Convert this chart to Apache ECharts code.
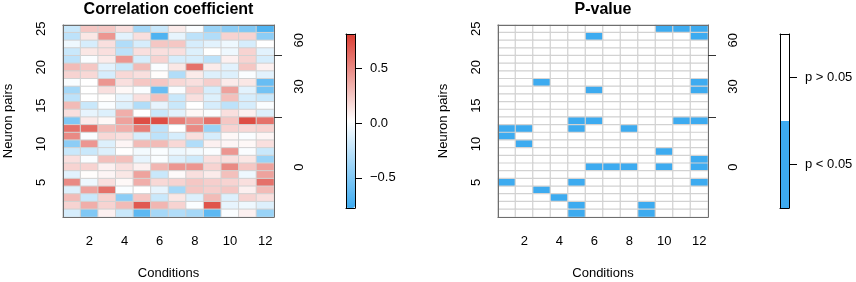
<!DOCTYPE html>
<html><head><meta charset="utf-8">
<script src="https://cdn.jsdelivr.net/npm/echarts@6/dist/echarts.min.js"></script>
<style>html,body{margin:0;padding:0;background:#fff}#c{width:856px;height:282px}</style>
</head><body><div id="c"></div>
<script>
// ---------- data ----------
const conditions = ['1','2','3','4','5','6','7','8','9','10','11','12'];
const pairs = ['1','2','3','4','5','6','7','8','9','10','11','12','13','14','15','16','17','18','19','20','21','22','23','24','25'];
const xTickLabels = ['2','4','6','8','10','12'];
const yTickLabels = ['5','10','15','20','25'];
const groupBounds = [0, 13, 21, 25];      // neuron-pair index boundaries of the groups
const groupLabels = ['0', '30', '60'];
const corrTicks = [-0.5, 0, 0.5];
const corrRange = [-0.775, 0.815];
const pLegend = ['p < 0.05', 'p > 0.05'];
const pLegendValues = [1, 1];

// correlation coefficient, rows listed from pair 25 (top) down to pair 1 (bottom)
const corr = [
  [-0.20, 0.25, 0.25, 0.15,-0.35,-0.20, 0.10, 0.00,-0.40,-0.45,-0.50,-0.70],
  [-0.25, 0.12, 0.45,-0.10, 0.15,-0.70,-0.08,-0.25,-0.30, 0.20, 0.20,-0.45],
  [-0.05,-0.15, 0.15,-0.30,-0.15, 0.25, 0.25,-0.15,-0.10,-0.05,-0.15, 0.02],
  [-0.20, 0.12, 0.15,-0.25, 0.15, 0.15, 0.15,-0.12, 0.02,-0.05, 0.20,-0.10],
  [-0.25, 0.00, 0.10, 0.45,-0.15, 0.20,-0.15,-0.15,-0.25, 0.08, 0.20,-0.15],
  [ 0.30, 0.25,-0.10,-0.20, 0.30, 0.00, 0.12, 0.60, 0.10,-0.10, 0.25, 0.08],
  [ 0.20, 0.18,-0.15, 0.18, 0.15, 0.03,-0.30, 0.10,-0.12,-0.12, 0.00,-0.10],
  [ 0.00, 0.02, 0.45, 0.15, 0.25, 0.25, 0.18, 0.15, 0.22, 0.10, 0.12,-0.60],
  [-0.35, 0.02, 0.15, 0.05, 0.00,-0.60, 0.00, 0.22,-0.15, 0.40,-0.10,-0.55],
  [-0.25, 0.02, 0.03,-0.08, 0.15, 0.28,-0.20, 0.15,-0.12, 0.28,-0.15,-0.20],
  [ 0.30,-0.20, 0.00,-0.12,-0.30,-0.08,-0.20, 0.02,-0.15,-0.25,-0.15, 0.00],
  [ 0.15,-0.08,-0.12, 0.35, 0.02,-0.20,-0.10, 0.05, 0.00, 0.15, 0.08,-0.12],
  [-0.50, 0.10, 0.05, 0.40, 0.75, 0.75, 0.55, 0.45, 0.60, 0.25, 0.75, 0.60],
  [ 0.60, 0.62, 0.30, 0.35, 0.55,-0.25, 0.02, 0.50,-0.40, 0.20, 0.18, 0.20],
  [ 0.50, 0.00, 0.18, 0.15,-0.15,-0.25,-0.15, 0.15,-0.15, 0.05, 0.00, 0.06],
  [-0.45, 0.45,-0.12, 0.06, 0.30, 0.30, 0.18,-0.30, 0.08, 0.06, 0.05, 0.15],
  [-0.20,-0.20,-0.12, 0.02,-0.03, 0.00,-0.05,-0.03, 0.00, 0.45, 0.00,-0.20],
  [ 0.15, 0.00, 0.28, 0.28,-0.08, 0.00,-0.12,-0.18, 0.15, 0.15, 0.12,-0.40],
  [ 0.20, 0.20, 0.08, 0.15, 0.08, 0.32, 0.45, 0.45, 0.20, 0.50, 0.25, 0.40],
  [-0.10, 0.03, 0.06, 0.12, 0.40,-0.20, 0.04, 0.15, 0.10, 0.28,-0.05, 0.40],
  [ 0.50,-0.05, 0.15, 0.05, 0.35, 0.18, 0.20, 0.25, 0.22, 0.20, 0.15, 0.60],
  [-0.12, 0.40, 0.60, 0.00, 0.02,-0.08,-0.35, 0.25, 0.22, 0.25, 0.08, 0.30],
  [ 0.30,-0.20, 0.20,-0.45, 0.25,-0.20, 0.12,-0.12, 0.30,-0.12, 0.20, 0.15],
  [ 0.20, 0.35, 0.20, 0.30, 0.70, 0.32, 0.20, 0.00, 0.72,-0.08,-0.05,-0.12],
  [-0.15,-0.50, 0.08,-0.20,-0.65,-0.35,-0.30,-0.35,-0.65, 0.00, 0.08,-0.40]
];

// significance (1 = p < 0.05), rows listed from pair 25 (top) down to pair 1
const sig = [
  [0,0,0,0,0,0,0,0,0,1,1,1],
  [0,0,0,0,0,1,0,0,0,0,0,1],
  [0,0,0,0,0,0,0,0,0,0,0,0],
  [0,0,0,0,0,0,0,0,0,0,0,0],
  [0,0,0,0,0,0,0,0,0,0,0,0],
  [0,0,0,0,0,0,0,0,0,0,0,0],
  [0,0,0,0,0,0,0,0,0,0,0,0],
  [0,0,1,0,0,0,0,0,0,0,0,1],
  [0,0,0,0,0,1,0,0,0,0,0,1],
  [0,0,0,0,0,0,0,0,0,0,0,0],
  [0,0,0,0,0,0,0,0,0,0,0,0],
  [0,0,0,0,0,0,0,0,0,0,0,0],
  [0,0,0,0,1,1,0,0,0,0,1,1],
  [1,1,0,0,1,0,0,1,0,0,0,0],
  [1,0,0,0,0,0,0,0,0,0,0,0],
  [0,1,0,0,0,0,0,0,0,0,0,0],
  [0,0,0,0,0,0,0,0,0,1,0,0],
  [0,0,0,0,0,0,0,0,0,0,0,1],
  [0,0,0,0,0,1,1,1,0,1,0,1],
  [0,0,0,0,0,0,0,0,0,0,0,0],
  [1,0,0,0,1,0,0,0,0,0,0,1],
  [0,0,1,0,0,0,0,0,0,0,0,0],
  [0,0,0,1,0,0,0,0,0,0,0,0],
  [0,0,0,0,1,0,0,0,1,0,0,0],
  [0,0,0,0,1,0,0,0,1,0,0,0]
];

// ---------- styles / layout ----------
const FONT = 'Liberation Sans, Arial, Helvetica, sans-serif';
const BLUE = '#3DABF0', RED = '#DB3D33', WHITE = '#FFFFFF';
const BOX = '#6e6e6e', TICK = '#333';
const G = [
  {left: 63,  top: 25, width: 211, height: 192},
  {left: 498, top: 25, width: 210, height: 192},
  {left: 346, top: 34, width: 9,   height: 174},
  {left: 780, top: 34, width: 9,   height: 174}
];

function toCells(m) {
  const out = [];
  m.forEach((row, ri) => {
    const p = pairs.length - 1 - ri;
    row.forEach((v, ci) => out.push([ci, p, v]));
  });
  return out;
}
const groupCenters = groupLabels.map((_, i) => (groupBounds[i] + groupBounds[i + 1]) / 2);
const innerBounds = groupBounds.slice(1, -1);

const txt = {fontFamily: FONT, fontSize: 13, color: '#000'};
const showX = (i, v) => xTickLabels.includes(v);
const showY = (i, v) => yTickLabels.includes(v);

function line(color) { return {show: true, onZero: false, lineStyle: {color: color, width: 1}}; }
function lineOnly(axis, color, z) {
  return Object.assign({
    show: true, axisLine: line(color),
    axisTick: {show: false}, axisLabel: {show: false}, splitLine: {show: false}, z: z
  }, axis);
}

const xAxis = [], yAxis = [];
[0, 1].forEach(g => {
  xAxis.push({
    type: 'category', data: conditions, gridIndex: g, position: 'bottom', z: 5,
    axisLine: line(BOX),
    axisTick: {alignWithLabel: true, interval: showX, length: 7, lineStyle: {color: TICK}},
    axisLabel: Object.assign({interval: showX, margin: 18}, txt),
    splitLine: {show: false},
    name: 'Conditions', nameLocation: 'middle', nameGap: 50, nameTextStyle: txt
  });
  xAxis.push(lineOnly({type: 'category', data: conditions, gridIndex: g, position: 'top'}, BOX, 5));
  yAxis.push({
    type: 'category', data: pairs, gridIndex: g, position: 'left', z: 5,
    axisLine: line(BOX),
    axisTick: {alignWithLabel: true, interval: showY, length: 7, lineStyle: {color: TICK}},
    axisLabel: Object.assign({interval: showY, rotate: 90, margin: 15}, txt),
    splitLine: {show: false},
    name: 'Neuron pairs', nameLocation: 'middle', nameGap: 48, nameRotate: 90, nameTextStyle: txt
  });
  yAxis.push({
    type: 'value', gridIndex: g, position: 'right', min: 0, max: pairs.length, z: 5,
    axisLine: line(BOX),
    axisTick: {show: true, customValues: innerBounds, length: 8, lineStyle: {color: TICK}},
    axisLabel: Object.assign({customValues: groupCenters, rotate: 90, margin: 19,
      formatter: v => groupLabels[groupCenters.indexOf(v)]}, txt),
    splitLine: {show: false}
  });
});
// colour bar for correlation (grid 2)
xAxis.push(lineOnly({type: 'value', gridIndex: 2, position: 'bottom', min: 0, max: 1}, '#000', 10));
xAxis.push(lineOnly({type: 'value', gridIndex: 2, position: 'top', min: 0, max: 1}, '#000', 10));
yAxis.push(lineOnly({type: 'value', gridIndex: 2, position: 'left', min: corrRange[0], max: corrRange[1]}, '#000', 10));
yAxis.push({
  type: 'value', gridIndex: 2, position: 'right', min: corrRange[0], max: corrRange[1], z: 10,
  axisLine: line('#000'),
  axisTick: {show: true, customValues: corrTicks, length: 7, lineStyle: {color: '#000'}},
  axisLabel: Object.assign({customValues: corrTicks, margin: 15,
    formatter: v => (v < 0 ? '\u2212' : '') + Math.abs(v).toFixed(1)}, txt),
  splitLine: {show: false}
});
// colour bar for p-value (grid 3)
xAxis.push(lineOnly({type: 'value', gridIndex: 3, position: 'bottom', min: 0, max: 1}, '#000', 10));
xAxis.push(lineOnly({type: 'value', gridIndex: 3, position: 'top', min: 0, max: 1}, '#000', 10));
yAxis.push(lineOnly({type: 'category', data: pLegend, gridIndex: 3, position: 'left'}, '#000', 10));
yAxis.push({
  type: 'category', data: pLegend, gridIndex: 3, position: 'right', z: 10,
  axisLine: line('#000'),
  axisTick: {show: true, alignWithLabel: true, length: 8, lineStyle: {color: '#000'}},
  axisLabel: Object.assign({margin: 16}, txt),
  splitLine: {show: false}
});

const titleStyle = {fontFamily: FONT, fontSize: 16, fontWeight: 'bold', color: '#000'};
const option = {
  animation: false,
  backgroundColor: '#fff',
  title: [
    {text: 'Correlation coefficient', left: G[0].left + G[0].width / 2, top: 2, textAlign: 'center', padding: 0, textStyle: titleStyle},
    {text: 'P-value', left: G[1].left + G[1].width / 2, top: 2, textAlign: 'center', padding: 0, textStyle: titleStyle}
  ],
  grid: G.map(g => Object.assign({containLabel: false, outerBoundsMode: 'none'}, g)),
  xAxis, yAxis,
  visualMap: [
    {type: 'continuous', seriesIndex: 0, min: corrRange[0], max: corrRange[1],
     inRange: {color: [BLUE, WHITE, RED]}, left: G[2].left, top: G[2].top,
     itemWidth: G[2].width, itemHeight: G[2].height, padding: 0, calculable: false,
     text: null, z: 4, hoverLink: false},
    {type: 'piecewise', seriesIndex: 1, show: false,
     pieces: [{value: 0, color: WHITE}, {value: 1, color: BLUE}]}
  ],
  series: [
    {type: 'heatmap', xAxisIndex: 0, yAxisIndex: 0, data: toCells(corr),
     itemStyle: {borderColor: '#d2d2d2', borderWidth: 1}, emphasis: {disabled: true}},
    {type: 'heatmap', xAxisIndex: 2, yAxisIndex: 2, data: toCells(sig),
     itemStyle: {borderColor: '#d2d2d2', borderWidth: 1.2}, emphasis: {disabled: true}},
    {type: 'bar', xAxisIndex: 6, yAxisIndex: 7, barWidth: '100%', barCategoryGap: '0%',
     data: pLegendValues.map((v, i) => ({value: v, itemStyle: {color: i === 0 ? BLUE : WHITE}})),
     emphasis: {disabled: true}, silent: true}
  ]
};
const chart = echarts.init(document.getElementById('c'), null, {renderer: 'canvas'});
chart.setOption(option);
</script>
</body></html>
